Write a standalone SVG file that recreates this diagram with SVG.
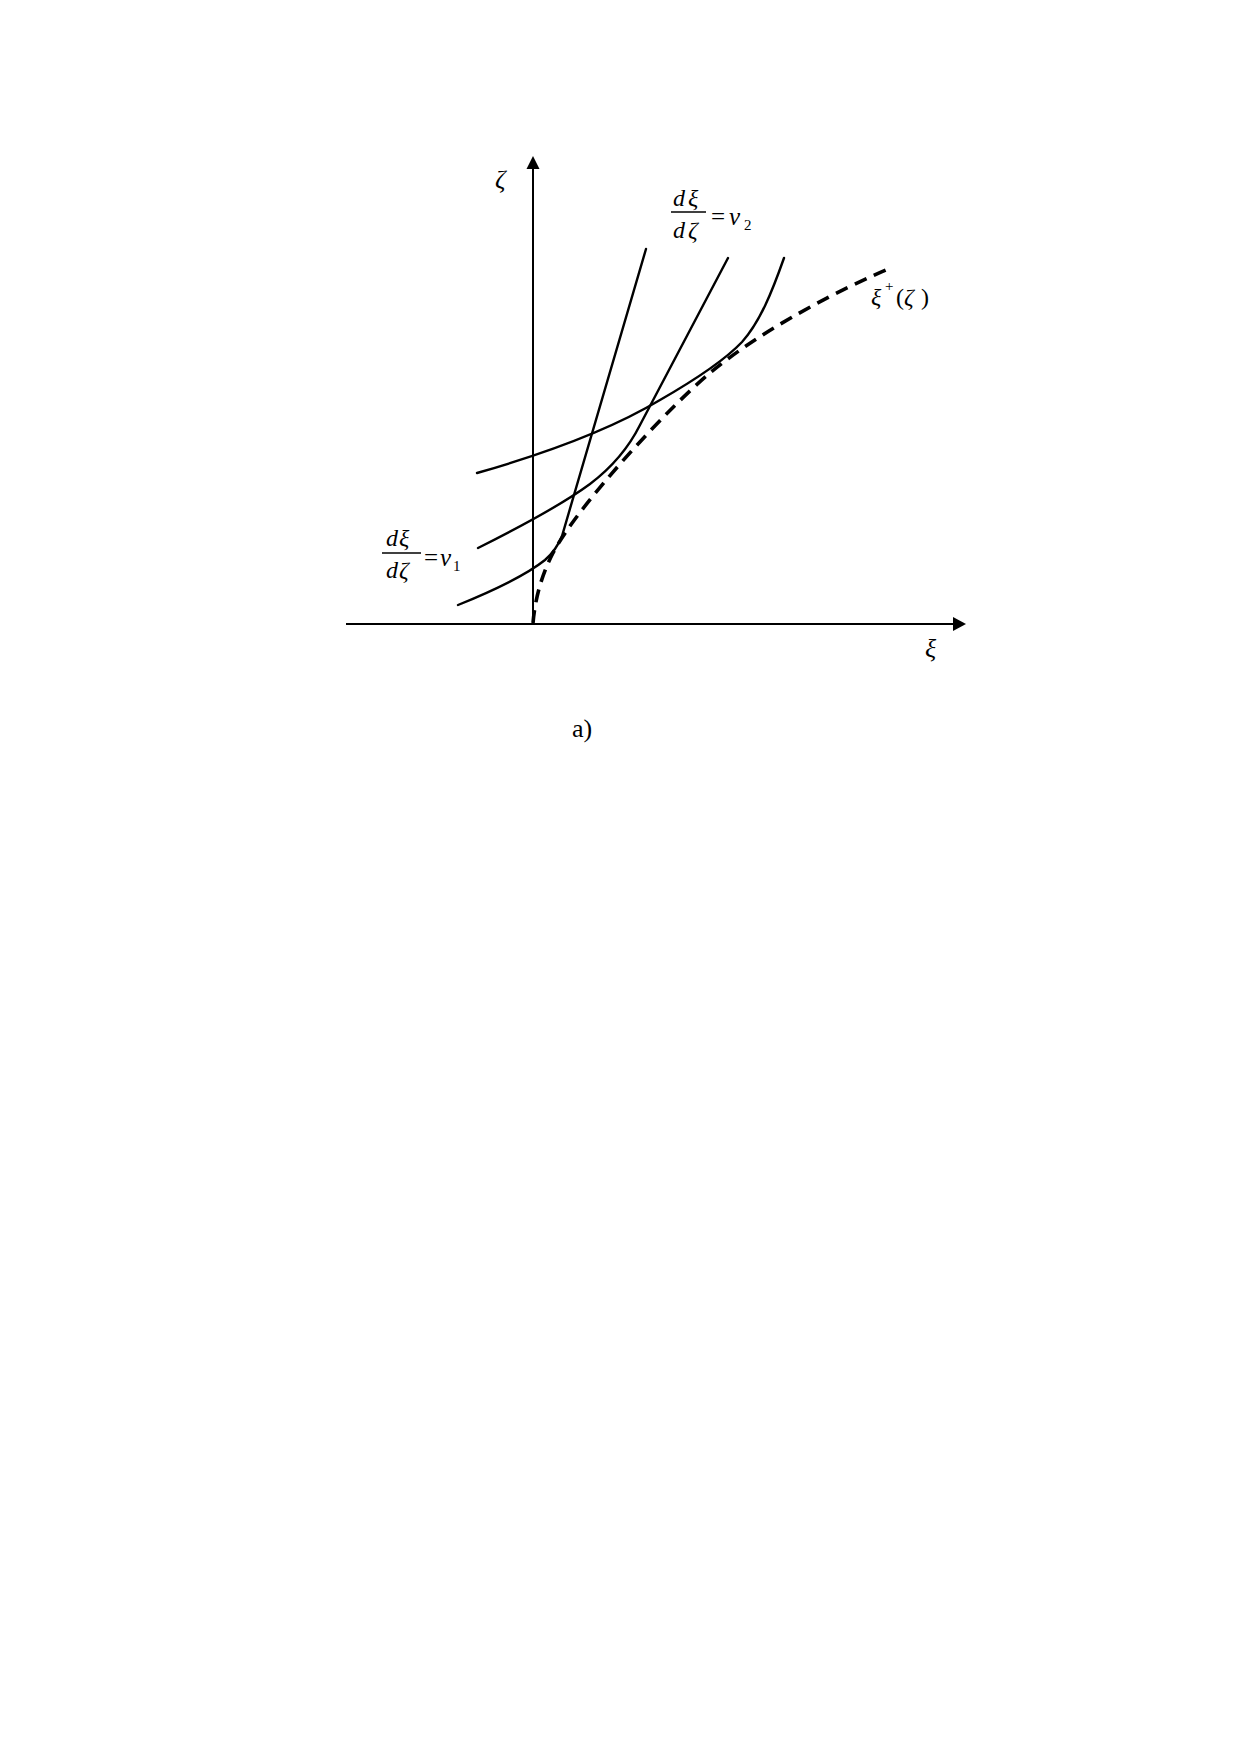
<svg xmlns="http://www.w3.org/2000/svg" width="1240" height="1754" viewBox="0 0 1240 1754">
<style>
.ax{stroke:#000;stroke-width:2;fill:none}
.cv{stroke:#000;stroke-width:2.4;fill:none;stroke-linecap:round}
.ds{stroke:#000;stroke-width:3.6;fill:none;stroke-dasharray:13 8}
.t{font-family:"Liberation Serif","DejaVu Serif","Times New Roman",serif;fill:#000}
.i{font-style:italic}
.bar{stroke:#000;stroke-width:1.3}
</style>
<rect width="1240" height="1754" fill="#fff"/>
<g id="axes">
<line class="ax" x1="533" y1="624" x2="533" y2="166"/>
<polygon points="533,156 526.5,169 539.5,169" fill="#000"/>
<line class="ax" x1="346" y1="624" x2="954" y2="624"/>
<polygon points="966,624 953,617 953,631" fill="#000"/>
</g>
<g id="connectors">
<path id="curveA" class="cv" d="M458,605 C490,592 525,576 545,560 C553,553 558,546 562,536 L646,249"/>
<path id="curveB" class="cv" d="M478,548 C510,532 560,506 590,484 C615,465 630,445 640,425 L728,258"/>
<path id="curveC" class="cv" d="M477,473 C540,455 610,430 660,400 C700,377 725,360 742,342 C760,322 772,292 784,258"/>
<path id="envelope" class="ds" d="M533,623 C535,600 541,576 553,553 C578,505 670,406 710,373 C765,327 846,287 886,270"/>
</g>
<g id="label-zeta-axis"><text class="t i" x="495" y="188" font-size="26">ζ</text></g>
<g id="label-xi-axis"><text class="t i" x="925" y="657" font-size="26">ξ</text></g>
<g id="label-v2">
<text class="t i" x="673" y="206" font-size="24">d</text>
<text class="t i" x="688" y="206" font-size="24">ξ</text>
<line class="bar" x1="671" y1="212" x2="706" y2="212"/>
<text class="t i" x="673" y="238" font-size="24">d</text>
<text class="t i" x="688" y="238" font-size="24">ζ</text>
<text class="t" x="711" y="225" font-size="25">=</text>
<text class="t i" x="729" y="225" font-size="25">v</text>
<text class="t" x="744" y="230" font-size="15">2</text>
</g>
<g id="label-v1">
<text class="t i" x="386" y="546" font-size="24">d</text>
<text class="t i" x="399" y="546" font-size="24">ξ</text>
<line class="bar" x1="382" y1="553" x2="421" y2="553"/>
<text class="t i" x="386" y="578" font-size="24">d</text>
<text class="t i" x="399" y="578" font-size="24">ζ</text>
<text class="t" x="424" y="566" font-size="25">=</text>
<text class="t i" x="440" y="566" font-size="25">v</text>
<text class="t" x="453" y="571" font-size="15">1</text>
</g>
<g id="label-envelope">
<text class="t i" x="871" y="305" font-size="24">ξ</text>
<text class="t" x="885" y="291" font-size="15">+</text>
<text class="t" x="896" y="305" font-size="24">(</text>
<text class="t i" x="904" y="305" font-size="24">ζ</text>
<text class="t" x="921" y="305" font-size="24">)</text>
</g>
<g id="caption"><text class="t" x="572" y="737" font-size="26">a)</text></g>
</svg>
